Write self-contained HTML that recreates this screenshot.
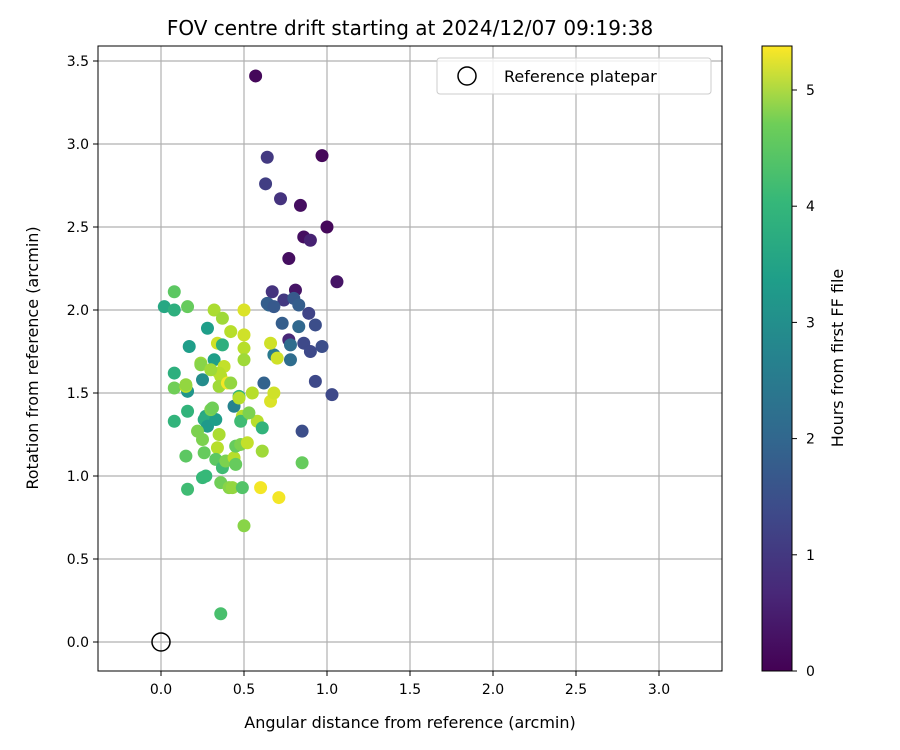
<!DOCTYPE html>
<html><head><meta charset="utf-8"><style>
body{margin:0;background:#fff;}
svg{display:block;font-family:"DejaVu Sans","Liberation Sans",sans-serif;}
</style></head><body>
<svg id="chart" width="900" height="750" viewBox="0 0 900 750">
<defs>
<linearGradient id="vir" x1="0" y1="1" x2="0" y2="0">
<stop offset="0" stop-color="#440154"/><stop offset="0.125" stop-color="#482878"/><stop offset="0.25" stop-color="#3e4989"/><stop offset="0.375" stop-color="#31688e"/><stop offset="0.5" stop-color="#26828e"/><stop offset="0.625" stop-color="#1f9e89"/><stop offset="0.75" stop-color="#35b779"/><stop offset="0.875" stop-color="#6ece58"/><stop offset="1" stop-color="#fde725"/>
</linearGradient>
<clipPath id="pc"><rect x="98" y="46" width="624" height="625"/></clipPath>
</defs>
<text x="410" y="35" text-anchor="middle" font-size="20">FOV centre drift starting at 2024/12/07 09:19:38</text>
<g id="grid"></g>
<g id="pts" clip-path="url(#pc)"></g>
<rect x="98" y="46" width="624" height="625" fill="none" stroke="#000" stroke-width="1"/>
<g id="ticks"></g>
<text x="410" y="728" text-anchor="middle" font-size="16">Angular distance from reference (arcmin)</text>
<text transform="translate(38,358) rotate(-90)" text-anchor="middle" font-size="16">Rotation from reference (arcmin)</text>
<g>
<rect x="437" y="58" width="274" height="36" rx="3" fill="#fff" fill-opacity="0.8" stroke="#ccc"/>
<circle cx="467" cy="76" r="9" fill="none" stroke="#000" stroke-width="1.5"/>
<text x="504" y="82" font-size="16">Reference platepar</text>
</g>
<rect x="762" y="46" width="30" height="625" fill="url(#vir)" stroke="#000" stroke-width="1"/>
<g id="cbticks"></g>
<text transform="translate(843,358) rotate(-90)" text-anchor="middle" font-size="16">Hours from first FF file</text>
</svg>
<script>
const xs=[0.57,0.97,0.64,0.63,0.72,0.84,0.86,0.90,1.00,0.77,1.06,0.67,0.81,0.74,0.65,0.64,0.68,0.80,0.83,0.89,0.73,0.93,0.83,0.77,0.78,0.86,0.90,0.97,0.68,0.78,0.62,0.93,1.03,0.85,
0.70,0.66,0.66,0.68,0.60,0.71,0.85,0.50,0.50,0.50,0.50,0.55,0.58,0.61,0.61,
0.02,0.08,0.08,0.16,0.32,0.37,0.28,0.17,0.34,0.42,0.37,0.32,0.24,0.24,0.38,0.25,0.35,0.36,0.08,0.16,0.08,0.15,0.15,0.30,0.35,0.40,0.42,0.44,0.47,0.47,0.49,0.48,0.53,0.16,0.08,0.27,0.26,0.28,0.33,0.30,0.31,0.35,0.22,0.25,0.26,0.15,0.34,0.33,0.37,0.39,0.44,0.45,0.45,0.48,0.52,0.25,0.27,0.16,0.36,0.41,0.43,0.49,0.50,0.36];
const ys=[3.41,2.93,2.92,2.76,2.67,2.63,2.44,2.42,2.50,2.31,2.17,2.11,2.12,2.06,2.03,2.04,2.02,2.07,2.03,1.98,1.92,1.91,1.90,1.82,1.79,1.80,1.75,1.78,1.73,1.70,1.56,1.57,1.49,1.27,
1.71,1.80,1.45,1.50,0.93,0.87,1.08,2.00,1.85,1.77,1.70,1.50,1.33,1.15,1.29,
2.02,2.11,2.00,2.02,2.00,1.95,1.89,1.78,1.80,1.87,1.79,1.70,1.68,1.67,1.66,1.58,1.62,1.60,1.62,1.51,1.53,1.54,1.55,1.64,1.54,1.56,1.56,1.42,1.48,1.47,1.36,1.33,1.38,1.39,1.33,1.36,1.34,1.30,1.34,1.40,1.41,1.25,1.27,1.22,1.14,1.12,1.17,1.10,1.05,1.09,1.11,1.07,1.18,1.19,1.20,0.99,1.00,0.92,0.96,0.93,0.93,0.93,0.70,0.17];
const hours=[0.1,0.1,0.9,1.0,0.8,0.2,0.2,0.5,0.1,0.2,0.3,0.8,0.3,0.9,1.8,1.6,1.5,1.5,1.6,1.1,1.6,1.3,1.8,0.6,1.9,1.2,1.2,1.3,2.2,1.9,1.7,1.2,1.2,1.3,
5.0,5.0,5.1,5.0,5.3,5.3,4.1,5.1,5.0,4.8,4.6,4.8,4.8,4.6,3.5,
3.2,4.0,3.4,4.1,4.7,4.6,3.0,3.0,5.0,4.8,3.4,3.0,4.6,4.4,4.9,2.6,4.8,4.8,3.4,2.8,4.2,4.8,4.5,4.6,4.6,5.3,4.5,2.4,3.5,4.8,4.8,3.7,4.3,3.5,3.5,3.2,3.3,2.9,3.0,4.3,4.2,4.7,4.3,4.3,4.1,4.0,4.8,4.0,3.7,4.3,4.8,4.1,4.1,4.3,4.9,3.6,3.6,3.7,4.2,4.4,4.5,3.9,4.4,3.8];
const xTicks=["0.0","0.5","1.0","1.5","2.0","2.5","3.0"];
const yTicks=["0.0","0.5","1.0","1.5","2.0","2.5","3.0","3.5"];
const cTicks=["0","1","2","3","4","5"];
const hMax=5.38;
const NS="http://www.w3.org/2000/svg";
function X(v){return 161+v*166;}
function Y(v){return 642-v*166;}
function C(v){return 671-v*116.2;}
const vstops=[[68,1,84],[72,40,120],[62,73,137],[49,104,142],[38,130,142],[31,158,137],[53,183,121],[110,206,88],[181,222,43],[253,231,37]];
function viridis(h){let t=Math.max(0,Math.min(1,h/hMax))*(vstops.length-1);let i=Math.min(Math.floor(t),vstops.length-2),f=t-i;const a=vstops[i],b=vstops[i+1];return `rgb(${a.map((c,k)=>Math.round(c+(b[k]-c)*f)).join(',')})`;}
function mk(tag,attrs,parent,txt){const e=document.createElementNS(NS,tag);for(const k in attrs)e.setAttribute(k,attrs[k]);if(txt!==undefined)e.textContent=txt;parent.appendChild(e);return e;}
const grid=document.getElementById('grid'),ticks=document.getElementById('ticks'),pts=document.getElementById('pts'),cb=document.getElementById('cbticks');
xTicks.forEach(t=>{const x=X(parseFloat(t));
let g=mk('line',{x1:x,x2:x,y1:46,y2:671,stroke:'#b0b0b0','stroke-width':1.2},grid);


let l=mk('line',{x1:x,x2:x,y1:671,y2:676,stroke:'#000'},ticks);


let tx=mk('text',{x:x,y:694,'text-anchor':'middle','font-size':14},ticks,t);

});
yTicks.forEach(t=>{const y=Y(parseFloat(t));
let g=mk('line',{x1:98,x2:722,y1:y,y2:y,stroke:'#b0b0b0','stroke-width':1.2},grid);


let l=mk('line',{x1:93,x2:98,y1:y,y2:y,stroke:'#000'},ticks);


let tx=mk('text',{x:89,y:y+5,'text-anchor':'end','font-size':14},ticks,t);

});
cTicks.forEach(t=>{const y=C(parseFloat(t));
let l=mk('line',{x1:792,x2:797,y1:y,y2:y,stroke:'#000'},cb);


let tx=mk('text',{x:806,y:y+5,'font-size':14},cb,t);

});
xs.forEach((v,i)=>{let c=mk('circle',{cx:X(v),cy:Y(ys[i]),r:6.5,fill:viridis(hours[i])},pts);

});
let r=mk('circle',{cx:X(0),cy:Y(0),r:9,fill:'none',stroke:'#000','stroke-width':1.5},pts);


</script>
</body></html>
